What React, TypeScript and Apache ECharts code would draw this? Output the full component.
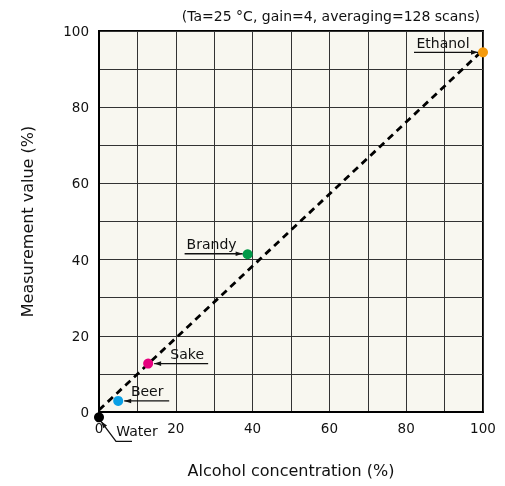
import React, { useEffect, useRef } from "react";
import * as echarts from "echarts";

// ---- data ----
const categories = ["Water", "Beer", "Sake", "Brandy", "Ethanol"];
const concentration = [0, 5.0, 12.8, 38.7, 100];
const measured = [-1.4, 2.9, 12.7, 41.4, 94.4];
const fitX = [0, 100];
const fitY = [0.5, 95];
const subtitle = "(Ta=25 °C, gain=4, averaging=128 scans)";
const xName = "Alcohol concentration (%)";
const yName = "Measurement value (%)";

// ---- styles ----
const FONT = "DejaVu Sans";
const TEXT = "#111";
const COLORS: Record<string, string> = {
  Water: "#000000",
  Beer: "#0aa0e6",
  Sake: "#e6007e",
  Brandy: "#009a48",
  Ethanol: "#f59a0c",
};
// pixel offsets of annotation leader lines / labels relative to each point
const ANNOT: Record<string, { path: number[][]; text: number[] }> = {
  Ethanol: { path: [[-69, 0], [-5, 0]], text: [-40, -9] },
  Brandy: { path: [[-63, -0.5], [-5, -0.5]], text: [-36, -10] },
  Sake: { path: [[60, 0], [6, 0]], text: [39, -10] },
  Beer: { path: [[51, 0], [6, 0]], text: [29, -10] },
  Water: { path: [[33, 24], [17, 24], [2, 4]], text: [38, 14] },
};

function arrowHead(tip: number[], from: number[]) {
  const dx = tip[0] - from[0];
  const dy = tip[1] - from[1];
  const len = Math.sqrt(dx * dx + dy * dy) || 1;
  const ux = dx / len, uy = dy / len;
  const nx = -uy, ny = ux;
  const L = 7, W = 2.3;
  return [
    [tip[0], tip[1]],
    [tip[0] - ux * L + nx * W, tip[1] - uy * L + ny * W],
    [tip[0] - ux * L - nx * W, tip[1] - uy * L - ny * W],
  ];
}

export default function App() {
  const ref = useRef<HTMLDivElement>(null);
  useEffect(() => {
    if (!ref.current) return;
    const chart = echarts.init(ref.current, null, { renderer: "svg" });
    const option: any = {
      animation: false,
      textStyle: { fontFamily: FONT },
      title: {
        text: subtitle,
        right: 20,
        top: 4,
        textStyle: { fontFamily: FONT, fontSize: 14, fontWeight: "normal", color: TEXT },
      },
      grid: {
        left: 99,
        right: 22,
        top: 31,
        bottom: 74,
        show: true,
        backgroundColor: "#f8f7f0",
        borderColor: "#000",
        borderWidth: 2,
      },
      xAxis: {
        type: "value",
        min: 0,
        max: 100,
        interval: 10,
        name: xName,
        nameLocation: "middle",
        nameGap: 50,
        nameTextStyle: { fontFamily: FONT, fontSize: 16, color: TEXT },
        axisLine: { show: true, lineStyle: { color: "#000", width: 2 } },
        axisTick: { show: false },
        axisLabel: {
          margin: 9,
          fontFamily: FONT,
          fontSize: 13.5,
          color: TEXT,
          formatter: (v: number) => (v % 20 === 0 ? String(v) : ""),
        },
        splitLine: { show: true, lineStyle: { color: "#333", width: 1 } },
      },
      yAxis: {
        type: "value",
        min: 0,
        max: 100,
        interval: 10,
        name: yName,
        nameLocation: "middle",
        nameGap: 64,
        nameTextStyle: { fontFamily: FONT, fontSize: 16, color: TEXT },
        axisLine: { show: true, lineStyle: { color: "#000", width: 2 } },
        axisTick: { show: false },
        axisLabel: {
          margin: 10,
          fontFamily: FONT,
          fontSize: 13.5,
          color: TEXT,
          formatter: (v: number) => (v % 20 === 0 ? String(v) : ""),
        },
        splitLine: { show: true, lineStyle: { color: "#333", width: 1 } },
      },
      series: [
        {
          type: "line",
          data: fitX.map((x, i) => [x, fitY[i]]),
          symbol: "none",
          lineStyle: { color: "#000", width: 2.8, type: [7, 5] },
          z: 3,
        },
        {
          type: "scatter",
          clip: false,
          symbolSize: 10,
          data: categories.map((c, i) => ({
            name: c,
            value: [concentration[i], measured[i]],
            itemStyle: { color: COLORS[c], opacity: 1 },
          })),
          z: 5,
        },
      ],
    };
    chart.setOption(option);

    const graphics: any[] = [];
    categories.forEach((c, i) => {
      const p = chart.convertToPixel({ gridIndex: 0 }, [concentration[i], measured[i]]) as number[];
      const a = ANNOT[c];
      if (!a) return;
      const pts = a.path.map((o) => [p[0] + o[0], p[1] + o[1]]);
      graphics.push({
        type: "polyline",
        shape: { points: pts },
        style: { stroke: "#111", lineWidth: 1.3, fill: null },
        z: 10,
      });
      const tip = pts[pts.length - 1];
      const prev = pts[pts.length - 2];
      graphics.push({
        type: "polygon",
        shape: { points: arrowHead(tip, prev) },
        style: { fill: "#111" },
        z: 10,
      });
      graphics.push({
        type: "text",
        x: p[0] + a.text[0],
        y: p[1] + a.text[1],
        style: {
          text: c,
          fontFamily: FONT,
          fontSize: 14,
          fill: TEXT,
          align: "center",
          verticalAlign: "middle",
        },
        z: 10,
      });
    });
    chart.setOption({ graphic: graphics });
    return () => chart.dispose();
  }, []);
  return (
    <div
      ref={ref}
      style={{ position: "fixed", left: 0, top: 0, width: 505, height: 486 }}
    />
  );
}
